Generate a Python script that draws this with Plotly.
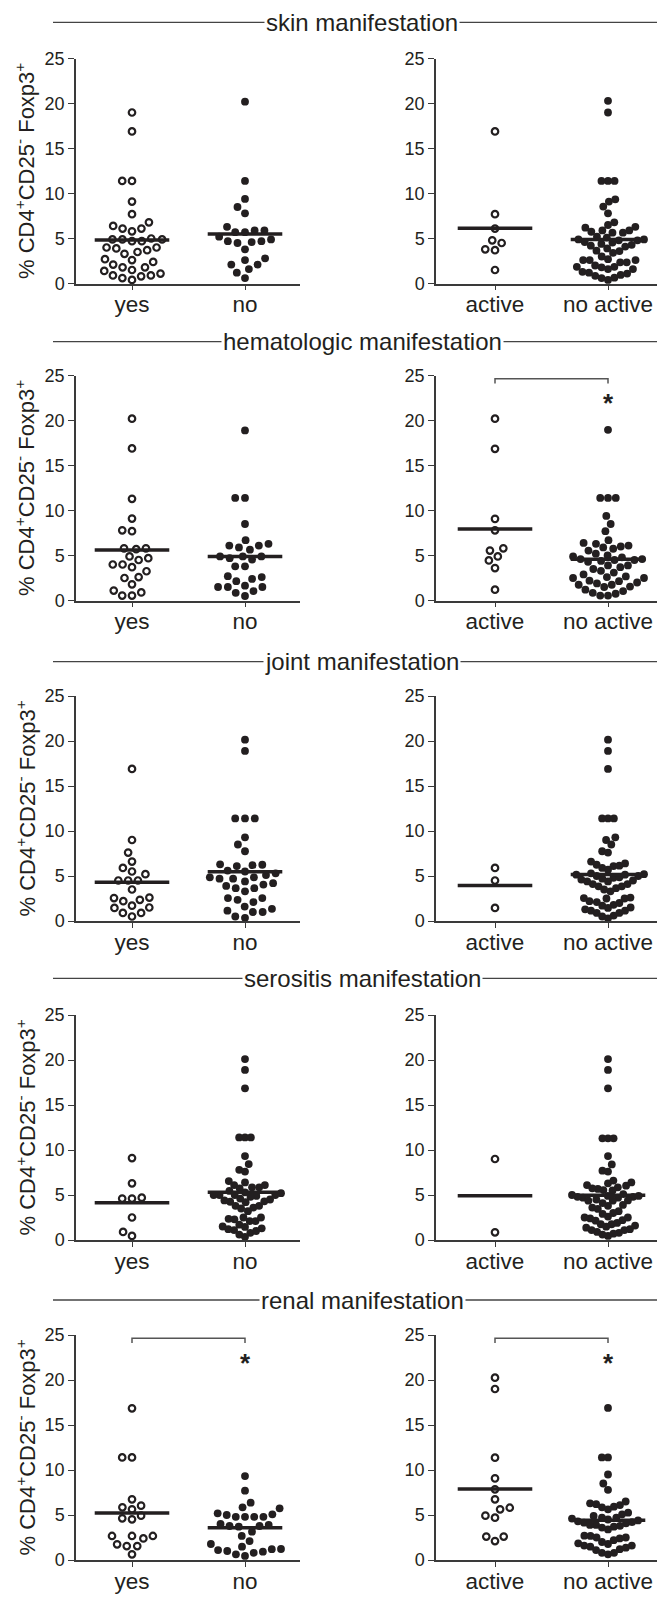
import numpy as np
import plotly.graph_objects as go

W, H = 657, 1597

# ---------------- data ----------------
SECTIONS = ["skin manifestation", "hematologic manifestation", "joint manifestation",
            "serositis manifestation", "renal manifestation"]
LEFT_CATS = ["yes", "no"]
RIGHT_CATS = ["active", "no active"]
Y_TICKS = [0, 5, 10, 15, 20, 25]
Y_TITLE = "% CD4<sup>+</sup>CD25<sup>-</sup> Foxp3<sup>+</sup>"

skin_yes = [19.0, 16.9, 11.4, 11.4, 9.1, 7.7, 6.8, 6.1, 5.8, 6.1, 6.4, 5.0, 4.9, 4.7, 4.7, 4.9, 4.9,
            4.0, 3.7, 3.3, 3.5, 3.9, 4.0, 2.7, 2.4, 1.8, 1.8, 2.1, 2.6, 1.4, 0.9, 0.8, 0.4, 0.6, 0.9, 1.1, 1.5]
skin_no = [20.2, 11.4, 9.4, 8.5, 7.8, 6.3, 5.9, 5.7, 5.7, 5.9, 4.7, 4.6, 4.5, 4.7, 4.9, 5.2, 3.8,
           2.8, 2.1, 2.1, 2.6, 1.6, 1.2, 0.6]
skin_active = [16.9, 7.7, 6.1, 4.8, 3.8, 3.7, 4.5, 1.5]
skin_noactive = [20.3, 19.0, 11.4, 11.4, 11.4, 9.1, 9.35, 8.55, 7.8, 6.8, 6.3, 5.9, 5.75, 5.9, 6.2, 6.5,
                 5.65, 5.65, 5.2, 4.9, 4.8, 4.8, 4.9, 5.1, 4.55, 4.2, 3.9, 3.4, 3.65, 4.1, 2.7, 2.6, 2.35,
                 1.85, 1.85, 2.35, 2.6, 2.6, 1.6, 1.1, 0.85, 0.6, 0.65, 0.95, 1.2, 1.6, 4.6, 4.4, 4.3,
                 3.6, 3.0, 2.0, 1.3, 0.4, 1.8]

hem_yes = [20.2, 16.9, 11.3, 9.1, 7.8, 7.7, 5.7, 5.8, 5.8, 4.7, 4.5, 4.9, 4.0, 3.7, 4.0, 3.25, 2.5,
           2.6, 1.8, 0.9, 0.55, 0.55, 1.1]
hem_no = [18.9, 11.4, 11.4, 8.5, 6.1, 5.9, 6.3, 6.7, 5.65, 6.1, 4.9, 4.55, 4.9, 4.9, 4.7, 3.8, 3.8,
          2.6, 2.15, 2.4, 2.7, 1.5, 1.05, 1.65, 1.5, 1.5, 0.5, 0.85]
hem_active = [20.2, 16.85, 9.07, 7.8, 5.8, 5.55, 4.9, 4.45, 3.6, 1.2]
hem_noactive = [18.96, 11.4, 11.4, 11.4, 9.4, 8.5, 7.7, 6.7, 6.3, 6.0, 5.75, 5.9, 6.1, 6.4, 5.55, 5.2,
                5.0, 4.6, 4.5, 4.5, 4.6, 4.8, 4.9, 3.9, 3.7, 3.3, 3.5, 3.9, 2.67, 2.5, 2.2, 1.75, 1.75,
                2.15, 2.5, 2.6, 1.55, 1.05, 0.75, 0.55, 0.55, 0.85, 1.2, 1.5, 4.3, 4.4, 2.9, 3.1, 1.9, 2.0]

joint_yes = [16.9, 9.0, 7.6, 6.6, 5.5, 5.9, 5.2, 4.5, 4.5, 4.5, 3.5, 2.55, 2.2, 2.35, 2.6, 1.45, 1.7,
             1.5, 0.9, 0.9, 0.5]
joint_no = [20.15, 18.9, 11.4, 11.4, 11.4, 9.3, 8.5, 7.75, 6.25, 6.1, 6.2, 6.3, 5.5, 5.6, 5.1, 4.85,
            4.7, 4.7, 4.85, 5.3, 4.4, 4.05, 3.65, 3.3, 3.65, 2.55, 2.1, 2.35, 2.55, 1.15, 1.0, 1.6,
            1.0, 1.35, 0.35, 0.5, 3.9, 4.2]
joint_active = [5.9, 4.5, 1.45]
joint_noactive = [20.15, 18.9, 16.9, 11.4, 11.4, 11.4, 9.0, 9.3, 8.5, 7.75, 7.6, 6.6, 6.25, 6.1, 5.9,
                  6.15, 6.4, 5.7, 5.15, 5.0, 4.8, 4.85, 5.0, 5.15, 5.2, 5.3, 4.1, 3.85, 3.65, 3.3, 3.5,
                  3.85, 4.1, 4.4, 2.6, 2.5, 2.2, 1.8, 1.7, 2.1, 2.5, 2.55, 1.45, 1.15, 0.9, 0.6, 0.5,
                  0.9, 1.15, 1.5, 0.3, 4.6, 4.7, 4.5, 4.4, 2.0, 1.3]

ser_yes = [9.1, 6.3, 4.7, 4.6, 4.6, 2.5, 0.45, 0.9]
ser_no = [20.1, 18.9, 16.85, 11.4, 11.4, 11.4, 9.33, 8.44, 7.8, 7.6, 6.55, 6.1, 5.85, 5.74, 5.85, 6.1,
          6.4, 5.45, 5.3, 5.2, 5.0, 5.0, 5.0, 5.0, 4.9, 4.8, 4.25, 3.8, 3.6, 3.2, 3.5, 3.8, 4.2, 4.3,
          2.35, 2.1, 2.5, 2.1, 2.3, 2.5, 1.5, 1.3, 1.1, 0.8, 0.35, 0.6, 1.0, 1.2, 1.45, 4.4, 4.5, 4.6, 1.7]
ser_active = [9.0, 0.85]
ser_noactive = [20.1, 18.9, 16.85, 11.3, 11.3, 11.3, 9.33, 8.4, 7.7, 7.6, 6.4, 6.1, 5.85, 5.67, 5.74,
                6.04, 6.3, 6.6, 5.5, 5.55, 5.1, 4.9, 4.8, 4.7, 4.7, 4.8, 4.9, 5.0, 4.37, 3.9, 3.6, 3.2,
                3.45, 3.8, 4.1, 4.37, 2.6, 2.4, 2.2, 1.75, 1.75, 2.15, 2.5, 2.5, 1.48, 1.1, 0.9, 0.6,
                0.45, 0.8, 1.1, 1.37, 4.5, 4.4, 3.0, 2.9, 1.9, 1.2, 0.7, 1.6]

renal_yes = [16.85, 11.4, 11.4, 6.74, 6.04, 5.85, 5.63, 4.93, 4.52, 4.63, 2.67, 2.67, 2.4, 2.67, 1.55,
             1.55, 1.74, 0.63]
renal_no = [9.33, 7.7, 6.37, 5.74, 5.85, 5.19, 4.8, 4.8, 4.8, 4.8, 5.0, 5.07, 4.0, 3.78, 3.7, 3.78, 3.9,
            3.15, 2.67, 2.1, 1.78, 1.48, 1.2, 1.0, 0.8, 0.45, 0.63, 0.93, 1.1, 1.22]
renal_active = [20.26, 19.0, 11.37, 9.07, 6.74, 7.85, 5.81, 4.93, 4.7, 5.63, 2.6, 2.1, 2.6]
renal_noactive = [16.9, 11.4, 11.4, 9.5, 8.5, 7.8, 6.3, 6.1, 5.85, 5.93, 6.2, 6.5, 5.63, 5.26, 5.07,
                  4.7, 4.5, 4.6, 4.7, 4.9, 4.15, 3.9, 3.7, 3.4, 3.6, 3.9, 4.07, 2.67, 2.5, 1.85, 1.78,
                  2.4, 2.5, 2.7, 1.6, 1.48, 1.2, 0.8, 0.63, 0.8, 1.1, 1.37, 1.6, 4.3, 4.4, 4.2, 3.8,
                  2.0, 2.2]

PANELS = [
    [(skin_yes, skin_no), (skin_active, skin_noactive)],
    [(hem_yes, hem_no), (hem_active, hem_noactive)],
    [(joint_yes, joint_no), (joint_active, joint_noactive)],
    [(ser_yes, ser_no), (ser_active, ser_noactive)],
    [(renal_yes, renal_no), (renal_active, renal_noactive)],
]
SIGNIFICANT = [(1, 1), (4, 0), (4, 1)]   # (row, col) panels with "*"

# ---------------- layout geometry (pixels) ----------------
ROW_TOP = [58.5, 375.5, 696.0, 1015.0, 1335.0]     # y = 25
ROW_BOT = [283.5, 600.5, 921.0, 1240.0, 1560.0]    # y = 0
TITLE_Y = [22.3, 341.7, 661.7, 978.3, 1300.0]
COL_X = [(76.0, 300.0), (436.0, 657.0)]
CAT0_X = [132.0, 495.0]
PX_PER_CAT = 113.0
PX_PER_UNIT = 225.0 / 25.0
INK = "#231f20"
AXC = "#3a3a3a"
FONT = "Liberation Sans, Arial, Helvetica, sans-serif"


def swarm(vals, d=9.8, max_half=36.0):
    y = np.asarray(vals, float) * PX_PER_UNIT
    order = np.argsort(y, kind="stable")
    xs = np.zeros(len(y))
    placed = []
    for i in order:
        yi = y[i]
        near = [(xs[j], y[j]) for j in placed if abs(y[j] - yi) < d]
        cands = [0.0]
        for xj, yj in near:
            dx = np.sqrt(d * d - (yj - yi) ** 2)
            cands += [xj + dx, xj - dx]
        best = 0.0
        for c in sorted(cands, key=lambda c: (abs(c), c)):
            if all((c - xj) ** 2 + (yj - yi) ** 2 >= d * d - 1e-6 for xj, yj in near):
                best = c
                break
        xs[i] = best
        placed.append(i)
    m = np.max(np.abs(xs)) if len(xs) else 0
    if m > max_half:
        xs = xs * max_half / m
    return xs / PX_PER_CAT


fig = go.Figure()
layout = {}
shapes = []
annotations = []

for r in range(5):
    for c in range(2):
        k = r * 2 + c + 1
        xa = "x" if k == 1 else f"x{k}"
        ya = "y" if k == 1 else f"y{k}"
        x0p, x1p = COL_X[c]
        rng = [(x0p - CAT0_X[c]) / PX_PER_CAT, (x1p - CAT0_X[c]) / PX_PER_CAT]
        cats = LEFT_CATS if c == 0 else RIGHT_CATS
        layout["xaxis" if k == 1 else f"xaxis{k}"] = dict(
            domain=[x0p / W, x1p / W], range=rng, anchor=ya, automargin=False,
            tickvals=[0, 1], ticktext=cats, ticks="outside", ticklen=5, tickwidth=1.3,
            ticklabelstandoff=-5,
            tickcolor=AXC, showline=True, linecolor=AXC, linewidth=1.5, showgrid=False,
            zeroline=False, tickfont=dict(size=22.5, color=INK, family=FONT), fixedrange=True)
        layout["yaxis" if k == 1 else f"yaxis{k}"] = dict(
            domain=[1 - ROW_BOT[r] / H, 1 - ROW_TOP[r] / H], range=[0, 25], anchor=xa,
            automargin=False, tickvals=Y_TICKS, ticks="outside", ticklen=6, tickwidth=1.3,
            tickcolor=AXC, showline=True, linecolor=AXC, linewidth=1.5, showgrid=False,
            zeroline=False, tickfont=dict(size=18, color=INK, family=FONT), fixedrange=True)

        for g, vals in enumerate(PANELS[r][c]):
            offs = swarm(vals)
            if g == 0:
                marker = dict(symbol="circle", size=6.5, color="white", line=dict(width=2.2, color=INK))
            else:
                marker = dict(symbol="circle", size=7.8, color=INK, line=dict(width=0))
            fig.add_trace(go.Scatter(x=g + offs, y=vals, mode="markers", marker=marker,
                                     xaxis=xa, yaxis=ya, cliponaxis=False, hoverinfo="skip",
                                     showlegend=False))
            m = float(np.mean(vals))
            fig.add_trace(go.Scatter(x=[g - 0.33, g + 0.33], y=[m, m], mode="lines",
                                     line=dict(color=INK, width=3.5), xaxis=xa, yaxis=ya,
                                     cliponaxis=False, hoverinfo="skip", showlegend=False))

        if (r, c) in SIGNIFICANT:
            shapes.append(dict(type="path", xref=xa, yref=ya,
                               path="M 0,24.1 L 0,24.65 L 1,24.65 L 1,24.1",
                               line=dict(color="#555555", width=1.5)))
            annotations.append(dict(x=1, y=21.9, xref=xa, yref=ya, text="<b>*</b>",
                                    showarrow=False, font=dict(size=26, color=INK, family=FONT),
                                    xanchor="center", yanchor="middle"))

    # section title with rule
    ty = 1 - TITLE_Y[r] / H
    shapes.append(dict(type="line", xref="paper", yref="paper", x0=53 / W, x1=1, y0=ty, y1=ty,
                       line=dict(color="#444444", width=1.3)))
    annotations.append(dict(x=362 / W, y=ty, xref="paper", yref="paper", text=SECTIONS[r],
                            showarrow=False, bgcolor="white", borderpad=1,
                            font=dict(size=24, color=INK, family=FONT),
                            xanchor="center", yanchor="middle"))
    # y-axis title (left panels)
    annotations.append(dict(x=25 / W, y=1 - (ROW_TOP[r] + ROW_BOT[r]) / 2 / H, xref="paper",
                            yref="paper", text=Y_TITLE, textangle=-90, showarrow=False,
                            font=dict(size=22, color=INK, family=FONT),
                            xanchor="center", yanchor="middle"))

fig.update_layout(width=W, height=H, margin=dict(l=0, r=0, t=0, b=0, autoexpand=False),
                  plot_bgcolor="white", paper_bgcolor="white", showlegend=False,
                  font=dict(family=FONT, color=INK), shapes=shapes, annotations=annotations,
                  **layout)

# remove the browser's default 8px body margin so the figure sits at the page origin
fig.write_html("out.html", config={"displayModeBar": False},
               post_script="document.body.style.margin='0px';document.body.style.overflow='hidden';")
